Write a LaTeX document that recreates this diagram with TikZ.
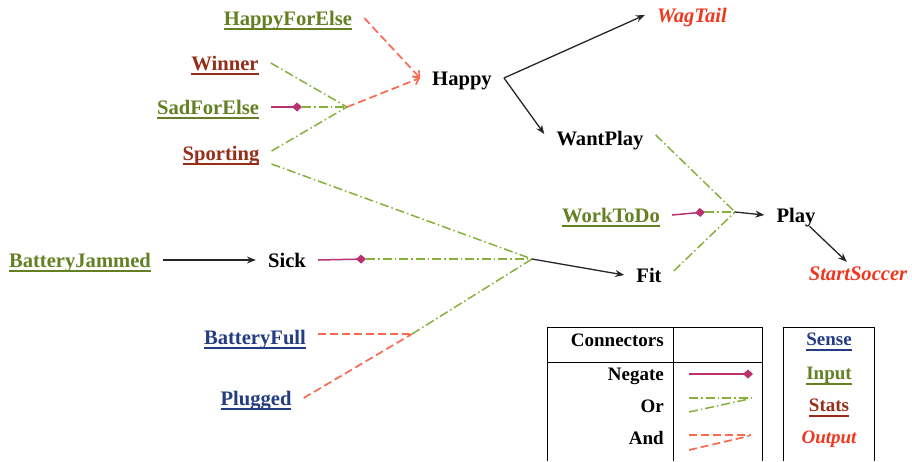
\documentclass[tikz,border=0pt]{standalone}
\usepackage{fontspec}
\setmainfont{Liberation Serif}
\usepackage{tikz}
\usetikzlibrary{arrows.meta,positioning,calc}
\definecolor{inp}{RGB}{100,128,35}
\definecolor{sta}{RGB}{150,45,25}
\definecolor{sen}{RGB}{35,60,130}
\definecolor{outp}{RGB}{240,55,30}
\definecolor{orc}{RGB}{135,175,60}
\definecolor{andc}{RGB}{250,105,80}
\definecolor{negc}{RGB}{185,50,110}
\newcommand{\undl}[1]{\setbox0\hbox{#1}\rlap{\rule[-5pt]{\wd0}{2pt}}\box0}

\begin{document}
\begin{tikzpicture}[x=1pt,y=-1pt,
    lbl/.style={font=\bfseries\fontsize{20.6}{24}\selectfont, inner xsep=12pt, inner ysep=4pt, text height=14pt, text depth=0pt},
    state/.style={lbl, black},
    input/.style={lbl, inp},
    stats/.style={lbl, sta},
    sense/.style={lbl, sen},
    output/.style={lbl, outp, font=\bfseries\itshape\fontsize{20.6}{24}\selectfont},
    leg/.style={font=\bfseries\fontsize{19}{22}\selectfont, inner sep=0pt, text height=13pt, text depth=0pt},
    arr/.style={line width=1.3pt, black!85, -{Stealth[length=9pt,width=7pt]}},
    orline/.style={line width=1.5pt, orc, dash pattern=on 9pt off 3pt on 1.5pt off 3pt},
    andline/.style={line width=1.7pt, andc, dash pattern=on 8pt off 4pt},
    negline/.style={line width=1.5pt, negc, -{Diamond[length=10pt,width=9pt]}}
  ]
    \useasboundingbox (0,0) rectangle (912,461);

    % inputs and stats
    \node[input] (happyforelse) at (288,18) {\undl{HappyForElse}};
    \node[stats] (winner) at (225,63) {\undl{Winner}};
    \node[input] (sadforelse) at (208,107) {\undl{SadForElse}};
    \node[stats] (sporting) at (221,153) {\undl{Sporting}};
    \node[input] (batteryjammed) at (80,260) {\undl{BatteryJammed}};
    \node[sense] (batteryfull) at (255,337) {\undl{BatteryFull}};
    \node[sense] (plugged) at (256,398) {\undl{Plugged}};
    \node[input] (worktodo) at (611,215) {\undl{WorkToDo}};

    % states
    \node[state] (happy) at (462,78) {Happy};
    \node[state] (wantplay) at (600,138) {WantPlay};
    \node[state] (sick) at (287,260) {Sick};
    \node[state] (fit) at (649,275) {Fit};
    \node[state] (play) at (796,215) {Play};

    % outputs
    \node[output] (wagtail) at (692,15) {WagTail};
    \node[output] (startsoccer) at (858,273) {StartSoccer};

    % junctions
    \coordinate (orA) at (347,107);
    \coordinate (negS) at (302,107);
    \coordinate (orB) at (532,259);
    \coordinate (negK) at (366,259);
    \coordinate (andB) at (412,334);
    \coordinate (orC) at (735,212);
    \coordinate (negW) at (705,212);

    % happy
    \draw[orline] (winner.east) -- (orA);
    \draw[negline] (sadforelse.east) -- (negS);
    \draw[orline] (negS) -- (orA);
    \draw[orline] ([yshift=2pt]sporting.east) -- (orA);
    \draw[andline, -{Straight Barb[length=5pt,width=9pt]}] (orA) -- (happy.west);
    \draw[andline, -{Straight Barb[length=5pt,width=9pt]}] (happyforelse.east) -- (happy.west);
    \draw[arr] (happy.east) -- (wagtail.west);
    \draw[arr] (happy.east) -- ([yshift=4pt]wantplay.west);

    % fit
    \draw[arr] (batteryjammed.east) -- (sick.west);
    \draw[orline] ([yshift=-11pt]sporting.east) -- (orB);
    \draw[negline] (sick.east) -- (negK);
    \draw[orline] (negK) -- (orB);
    \draw[andline] ([yshift=3pt]batteryfull.east) -- (andB);
    \draw[andline] (plugged.east) -- (andB);
    \draw[orline] (andB) -- (orB);
    \draw[arr] (orB) -- (fit.west);

    % play
    \draw[orline] ([yshift=3pt]wantplay.east) -- (orC);
    \draw[negline] (worktodo.east) -- (negW);
    \draw[orline] (negW) -- (orC);
    \draw[orline] ([yshift=4pt]fit.east) -- (orC);
    \draw[arr] (orC) -- (play.west);
    \draw[arr] (play.-40) -- (startsoccer.135);

    % legend boxes
    \draw[line width=1pt] (547,461) -- (547,327) -- (762,327) -- (762,461);
    \draw[line width=1pt] (673,327) -- (673,461);
    \draw[line width=1pt] (547,362) -- (762,362);
    \draw[line width=1pt] (783,461) -- (783,327) -- (874,327) -- (874,461);

    % legend texts
    \node[leg, anchor=east] (legconn) at (664,340) {Connectors};
    \node[leg, anchor=east] (legneg) at (664,374) {Negate};
    \node[leg, anchor=east] (legor) at (664,406) {Or};
    \node[leg, anchor=east] (legand) at (664,438) {And};
    \node[leg, sen] (legsense) at (829,339) {\undl{Sense}};
    \node[leg, inp] (leginput) at (829,373) {\undl{Input}};
    \node[leg, sta] (legstats) at (829,405) {\undl{Stats}};
    \node[leg, outp, font=\bfseries\itshape\fontsize{19}{22}\selectfont] (legout) at (829,437) {Output};

    % legend samples
    \draw[negline] (689,374) -- (753,374);
    \draw[orline] (689,398) -- (751,398);
    \draw[orline] (689,412) -- (749,399);
    \draw[andline] (689,435) -- (751,435);
    \draw[andline] (689,450) -- (749,436);
\end{tikzpicture}
\end{document}
